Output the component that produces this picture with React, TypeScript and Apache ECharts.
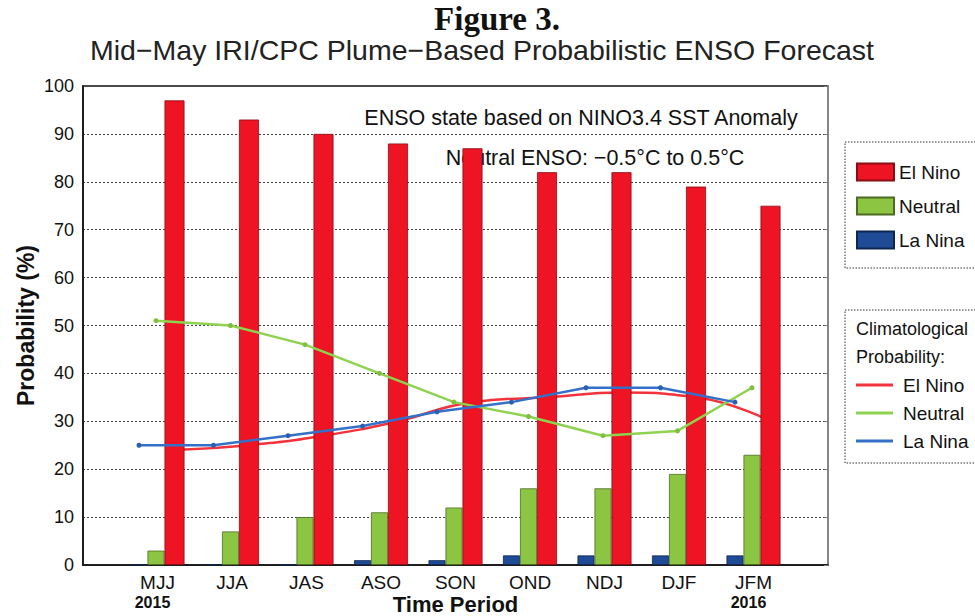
import React, { useEffect, useRef } from "react";
import * as echarts from "echarts";

// ---- data ----
const periods = ["MJJ", "JJA", "JAS", "ASO", "SON", "OND", "NDJ", "DJF", "JFM"];
const firstYear = "2015";
const lastYear = "2016";
const elNino = [97, 93, 90, 88, 87, 82, 82, 79, 75];
const neutral = [3, 7, 10, 11, 12, 16, 16, 19, 23];
const laNina = [0, 0, 0, 1, 1, 2, 2, 2, 2];
const climElNino = [24, 25, 27, 30, 34, 35, 36, 35, 30];
const climNeutral = [51, 50, 46, 40, 34, 31, 27, 28, 37];
const climLaNina = [25, 25, 27, 29, 32, 34, 37, 37, 34];
const yMin = 0;
const yMax = 100;
const yStep = 10;

// ---- layout / style constants ----
const FONT = "'Liberation Sans', Arial, Helvetica, sans-serif";
const GRID = { left: 83, top: 86, width: 745, height: 479 };
const X_SLOTS = periods.length + 1; // value axis 0..10, periods at 1..9
const BAND_PX = GRID.width / X_SLOTS;
const BAR_W = { laNina: 17, neutral: 17, elNino: 20 };
const GROUP_W = BAR_W.laNina + BAR_W.neutral + BAR_W.elNino;
// horizontal centres of each bar within a group, in axis units
const OFF_LANINA = (-GROUP_W / 2 + BAR_W.laNina / 2) / BAND_PX;
const OFF_NEUTRAL = (-GROUP_W / 2 + BAR_W.laNina + BAR_W.neutral / 2) / BAND_PX;
const OFF_ELNINO = (GROUP_W / 2 - BAR_W.elNino / 2) / BAND_PX;

const COLORS = {
  elNino: "#ee1424",
  neutral: "#8cc542",
  laNina: "#1f4a96",
  climElNino: "#f2333b",
  climNeutral: "#8fd24f",
  climLaNina: "#3470c8",
};

const toPts = (arr: number[], off = 0) => arr.map((v, i) => [i + 1 + off, v]);

export default function App() {
  const ref = useRef<HTMLDivElement>(null);

  useEffect(() => {
    if (!ref.current) return;
    const chart = echarts.init(ref.current, undefined, { renderer: "svg" });

    const option: any = {
      animation: false,
      backgroundColor: "#ffffff",
      textStyle: { fontFamily: FONT, color: "#111" },
      title: [
        {
          text: "Figure 3.",
          left: 497,
          top: 2,
          padding: 0,
          textAlign: "center",
          textStyle: {
            fontFamily: "'Liberation Serif', 'Times New Roman', serif",
            fontWeight: "bold",
            fontSize: 33,
            color: "#111",
          },
        },
        {
          text: "Mid\u2212May IRI/CPC Plume\u2212Based Probabilistic ENSO Forecast",
          left: 482,
          top: 35,
          padding: 0,
          textAlign: "center",
          textStyle: { fontFamily: FONT, fontWeight: "normal", fontSize: 28.5, color: "#222" },
        },
      ],
      grid: {
        ...GRID,
        show: true,
        borderColor: "#111",
        borderWidth: 1.5,
        backgroundColor: "transparent",
        containLabel: false,
        outerBoundsMode: "none",
      },
      xAxis: {
        type: "value",
        min: 0,
        max: X_SLOTS,
        interval: 1,
        name: "Time Period",
        nameLocation: "middle",
        nameGap: 29,
        nameMoveOverlap: false,
        nameTextStyle: { fontSize: 22, fontWeight: "bold", color: "#111", fontFamily: FONT, lineHeight: 20 },
        axisLine: { show: true, lineStyle: { color: "#111", width: 1.5 } },
        axisTick: { show: false },
        splitLine: { show: false },
        axisLabel: {
          margin: 8,
          showMinLabel: true,
          showMaxLabel: true,
          formatter: (v: number) => {
            const i = Math.round(v) - 1;
            if (i < 0 || i >= periods.length) return "";
            if (i === 0) return `{p|${periods[i]}}\n{y|${firstYear}}`;
            if (i === periods.length - 1) return `{p|${periods[i]}}\n{y|${lastYear}}`;
            return `{p|${periods[i]}}`;
          },
          rich: {
            p: { fontSize: 19, lineHeight: 19, color: "#111", fontFamily: FONT },
            y: {
              fontSize: 16,
              lineHeight: 20,
              fontWeight: "bold",
              color: "#111",
              fontFamily: FONT,
              padding: [0, 10, 0, 0],
            },
          },
        },
      },
      yAxis: [
        {
          type: "value",
          min: yMin,
          max: yMax,
          interval: yStep,
          name: "Probability (%)",
          nameLocation: "middle",
          nameGap: 46,
          nameMoveOverlap: false,
          nameTextStyle: { fontSize: 23, fontWeight: "bold", color: "#111", fontFamily: FONT },
          axisLine: { show: true, lineStyle: { color: "#111", width: 1.5 } },
          axisTick: { show: false },
          axisLabel: { fontSize: 18, color: "#111", margin: 9, fontFamily: FONT },
          splitLine: { show: true, lineStyle: { color: "#444", width: 1, type: [2, 2] } },
        },
        {
          type: "value",
          position: "right",
          min: yMin,
          max: yMax,
          interval: yStep,
          axisLine: { show: true, lineStyle: { color: "#9a9a9a", width: 1.5 } },
          axisTick: { show: true, inside: true, length: 4, lineStyle: { color: "#777" } },
          axisLabel: { show: false },
          splitLine: { show: false },
        },
      ],
      legend: [
        {
          data: ["El Nino", "Neutral", "La Nina"],
          orient: "vertical",
          left: 856,
          top: 162,
          padding: 0,
          itemWidth: 37,
          itemHeight: 17,
          itemGap: 14,
          icon: "rect",
          selectedMode: false,
          textStyle: { fontSize: 19, color: "#111", lineHeight: 20, fontFamily: FONT },
        },
        {
          data: [
            { name: "El Nino clim", itemStyle: { color: COLORS.climElNino } },
            { name: "Neutral clim", itemStyle: { color: COLORS.climNeutral } },
            { name: "La Nina clim", itemStyle: { color: COLORS.climLaNina } },
          ],
          orient: "vertical",
          left: 856,
          top: 375,
          padding: 0,
          itemWidth: 37,
          itemHeight: 3,
          itemGap: 8,
          icon: "rect",
          selectedMode: false,
          formatter: (n: string) => n.replace(" clim", ""),
          textStyle: { fontSize: 19, color: "#111", lineHeight: 20, fontFamily: FONT, padding: [0, 0, 0, 5] },
        },
      ],
      graphic: [
        {
          type: "text",
          x: 581,
          y: 118,
          z: 1,
          style: {
            text: "ENSO state based on NINO3.4 SST Anomaly",
            font: `21.5px ${FONT}`,
            fill: "#111",
            textAlign: "center",
            textVerticalAlign: "middle",
          },
        },
        {
          type: "text",
          x: 595,
          y: 158,
          z: 1,
          style: {
            text: "Neutral ENSO: \u22120.5\u00b0C to 0.5\u00b0C",
            font: `21.5px ${FONT}`,
            fill: "#111",
            textAlign: "center",
            textVerticalAlign: "middle",
          },
        },
        {
          type: "rect",
          z: 1,
          shape: { x: 845, y: 142, width: 150, height: 126 },
          style: { fill: "none", stroke: "#333", lineWidth: 1, lineDash: [1.5, 1.5] },
        },
        {
          type: "rect",
          z: 1,
          shape: { x: 845, y: 310, width: 150, height: 153 },
          style: { fill: "none", stroke: "#333", lineWidth: 1, lineDash: [1.5, 1.5] },
        },
        {
          type: "text",
          x: 856,
          y: 329,
          z: 1,
          style: { text: "Climatological", font: `18px ${FONT}`, fill: "#111", textVerticalAlign: "middle" },
        },
        {
          type: "text",
          x: 856,
          y: 357,
          z: 1,
          style: { text: "Probability:", font: `18px ${FONT}`, fill: "#111", textVerticalAlign: "middle" },
        },
      ],
      series: [
        {
          name: "La Nina",
          type: "bar",
          data: toPts(laNina),
          barWidth: BAR_W.laNina,
          barGap: "0%",
          z: 2,
          itemStyle: { color: COLORS.laNina, borderColor: "#0d2550", borderWidth: 0.8 },
        },
        {
          name: "Neutral",
          type: "bar",
          data: toPts(neutral),
          barWidth: BAR_W.neutral,
          barGap: "0%",
          z: 2,
          itemStyle: { color: COLORS.neutral, borderColor: "#4d6b22", borderWidth: 0.8 },
        },
        {
          name: "El Nino",
          type: "bar",
          data: toPts(elNino),
          barWidth: BAR_W.elNino,
          barGap: "0%",
          z: 2,
          itemStyle: { color: COLORS.elNino, borderColor: "#8a0d14", borderWidth: 0.8 },
        },
        {
          name: "El Nino clim",
          type: "line",
          data: toPts(climElNino, OFF_ELNINO),
          smooth: true,
          showSymbol: false,
          z: 1,
          itemStyle: { color: COLORS.climElNino },
          lineStyle: { color: COLORS.climElNino, width: 2.5 },
        },
        {
          name: "Neutral clim",
          type: "line",
          data: toPts(climNeutral, OFF_NEUTRAL),
          symbol: "circle",
          symbolSize: 5,
          z: 3,
          itemStyle: { color: "#7fbf3f" },
          lineStyle: { color: COLORS.climNeutral, width: 2.5 },
        },
        {
          name: "La Nina clim",
          type: "line",
          data: toPts(climLaNina, OFF_LANINA),
          symbol: "circle",
          symbolSize: 5,
          z: 3,
          itemStyle: { color: "#2a5fb0" },
          lineStyle: { color: COLORS.climLaNina, width: 2.5 },
        },
      ],
    };

    chart.setOption(option);
    return () => chart.dispose();
  }, []);

  return (
    <div
      ref={ref}
      style={{ position: "fixed", left: 0, top: 0, width: 975, height: 616, background: "#fff" }}
    />
  );
}
